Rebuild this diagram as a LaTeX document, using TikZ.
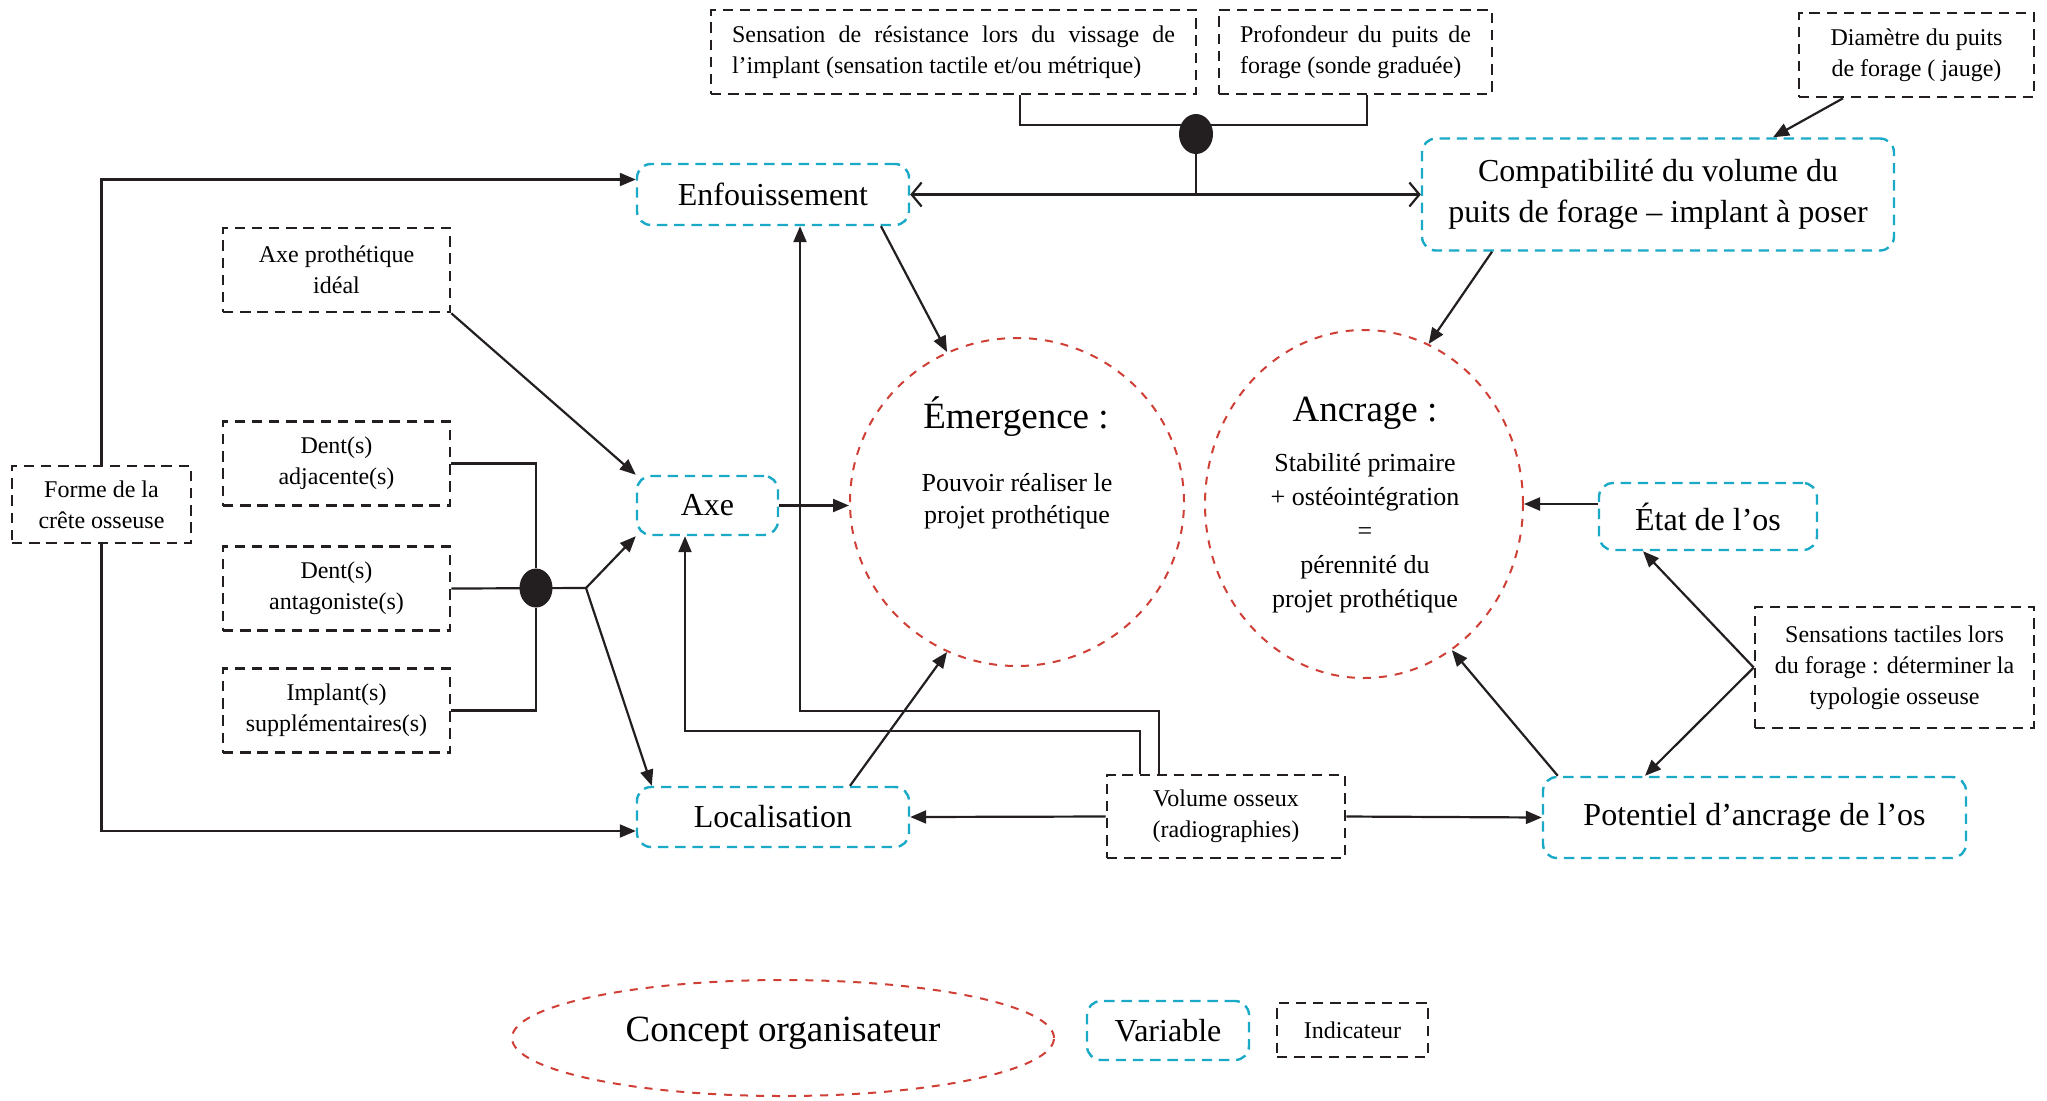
\documentclass[tikz,border=0pt]{standalone}
\usepackage{fontspec}
\setmainfont{Liberation Serif}
\usetikzlibrary{positioning,shapes.geometric,arrows.meta}
\definecolor{mapInk}{HTML}{231F20}
\definecolor{mapCyan}{HTML}{1AA9C7}
\definecolor{mapRed}{HTML}{CF3F36}
\tolerance=10000
\tikzset{
  indbox/.style={draw=mapInk,dash pattern=on 5.2pt off 3.4pt,line width=1.3pt,
    align=center,inner sep=0pt,font=\fontsize{12}{15.5}\selectfont},
  varbox/.style={draw=mapCyan,dash pattern=on 5.2pt off 3.4pt,line width=1.2pt,
    rounded corners=7pt,align=center,inner sep=0pt,font=\fontsize{16}{20.5}\selectfont},
  conceptring/.style={ellipse,draw=mapRed,dash pattern=on 4pt off 4pt,line width=1pt,inner sep=0pt},
  dotmark/.style={ellipse,fill=mapInk,inner sep=0pt},
  link/.style={draw=mapInk,line width=1.1pt},
  arr/.style={link,-{Triangle[length=8pt,width=6.5pt]}},
  twoway/.style={link,<->,>={Straight Barb[length=5pt,width=12pt]}}
}

\begin{document}
\begin{tikzpicture}[x=0.5pt,y=-0.5pt]
  \useasboundingbox (0,0) rectangle (2047,1100);

  \node[indbox,minimum width=242.5pt,minimum height=42pt,text width=221.5pt,align=justify] (sensvis) at (953.5,52)
    {Sensation de résistance lors du vissage de l’implant (sensation tactile et/ou métrique)};
  \node[indbox,minimum width=136.5pt,minimum height=42pt,text width=115.5pt,align=justify] (profond) at (1355.5,52)
    {Profondeur du puits de forage (sonde graduée)};
  \node[indbox,minimum width=117.5pt,minimum height=42pt] (diam) at (1916.5,55) {Diamètre du puits\\de forage ( jauge)};
  \node[indbox,minimum width=113.5pt,minimum height=42pt] (axeideal) at (336.5,270) {Axe prothétique\\idéal};
  \node[indbox,minimum width=113.5pt,minimum height=42pt] (dentadj) at (336.5,463.5) {Dent(s)\\adjacente(s)};
  \node[indbox,minimum width=113.5pt,minimum height=42pt] (dentant) at (336.5,588.5) {Dent(s)\\antagoniste(s)};
  \node[indbox,minimum width=113.5pt,minimum height=42pt] (implsup) at (336.5,710.5) {Implant(s)\\supplémentaires(s)};
  \node[indbox,minimum width=89.5pt,minimum height=38.5pt] (forme) at (101.5,504.5) {Forme de la\\crête osseuse};
  \node[indbox,minimum width=139.5pt,minimum height=60.5pt] (senstact) at (1894.5,667.5)
    {Sensations tactiles lors\\du forage : déterminer la\\typologie osseuse};
  \node[indbox,minimum width=119pt,minimum height=41.5pt] (volume) at (1226,816.5) {Volume osseux\\(radiographies)};

  \node[varbox,minimum width=136pt,minimum height=30.5pt] (enfouis) at (773,194.5) {Enfouissement};
  \node[varbox,minimum width=236pt,minimum height=56pt] (compat) at (1658,194.5)
    {Compatibilité du volume du\\puits de forage – implant à poser};
  \node[varbox,minimum width=70.5pt,minimum height=29.5pt] (axe) at (707.5,505.5) {Axe};
  \node[varbox,minimum width=136pt,minimum height=30pt] (local) at (773,817) {Localisation};
  \node[varbox,minimum width=109pt,minimum height=33.5pt] (etat) at (1708,516.5) {État de l’os};
  \node[varbox,minimum width=211.5pt,minimum height=40.5pt] (potent) at (1754.5,817.5) {Potentiel d’ancrage de l’os};

  \node[conceptring,minimum width=167pt,minimum height=164pt] (emerg) at (1017,502) {};
  \node[conceptring,minimum width=159pt,minimum height=174pt] (ancr) at (1364,504) {};
  \node[font=\fontsize{18.5}{22}\selectfont] (emergtitle) at (1016,417) {Émergence :};
  \node[font=\fontsize{13}{16}\selectfont,align=center] (emergtext) at (1017,501) {Pouvoir réaliser le\\projet prothétique};
  \node[font=\fontsize{18.5}{22}\selectfont] (ancrtitle) at (1365,413) {Ancrage :};
  \node[font=\fontsize{13}{17}\selectfont,align=center] (ancrtext) at (1365,533)
    {Stabilité primaire\\+ ostéointégration\\=\\pérennité du\\projet prothétique};

  \node[dotmark,minimum width=17pt,minimum height=20pt] (dottop) at (1196,134) {};
  \node[dotmark,minimum width=16.5pt,minimum height=19.5pt] (dotleft) at (536,588) {};
  \coordinate (split) at (586,588);

  \draw[link] ([xshift=33.25pt]sensvis.south) |- ([yshift=4.5pt]dottop.center);
  \draw[link] ([xshift=5.75pt]profond.south) |- ([yshift=4.5pt]dottop.center);
  \draw[link] (dottop) -- (dottop |- enfouis.east);
  \draw[twoway] (enfouis.east) -- (compat.west);
  \draw[arr] ([xshift=-36.75pt]diam.south) -- ([xshift=57.5pt]compat.north);
  \draw[arr] ([xshift=-83pt]compat.south) -- (ancr.68);
  \draw[arr] ([xshift=54pt]enfouis.south) -- (emerg.115);
  \draw[arr] ([xshift=38.5pt]local.north) -- (emerg.245);
  \draw[arr] (axe.east) -- (axe.east -| emerg.west);
  \draw[arr] (axeideal.south east) -- (axe.north west);
  \draw[link] (dentadj.east) -| (dotleft);
  \draw[link] (implsup.east) -| (dotleft);
  \draw[link] (dentant.east) -- (split);
  \draw[arr] (split) -- (axe.south west);
  \draw[arr] (split) -- ([xshift=8pt]local.north west);
  \draw[arr] (forme.north) |- ([yshift=7.5pt]enfouis.west);
  \draw[arr] (forme.south) |- ([yshift=-7pt]local.west);
  \draw[arr] ([xshift=-33.5pt]volume.north) -- ++(0,-63) -| ([xshift=13.5pt]enfouis.south);
  \draw[arr] ([xshift=-43pt]volume.north) -- ++(0,-43) -| ([xshift=-11.25pt]axe.south);
  \draw[arr] (volume.west) -- (local.east);
  \draw[arr] (volume.east) -- (potent.west);
  \draw[arr] ([xshift=8pt]potent.north west) -- (ancr.301);
  \draw[arr] (etat.west |- ancr.east) -- (ancr.east);
  \draw[arr] (senstact.west) -- ([xshift=-32.5pt]etat.south);
  \draw[arr] (senstact.west) -- ([xshift=-54.75pt]potent.north);

  \node[conceptring,minimum width=271pt,minimum height=58pt,text depth=9pt,font=\fontsize{18.5}{22}\selectfont] (legconcept) at (783,1038)
    {Concept organisateur};
  \node[varbox,minimum width=81pt,minimum height=29.5pt] (legvar) at (1168,1030.5) {Variable};
  \node[indbox,minimum width=75.5pt,minimum height=27pt] (legind) at (1352.5,1030) {Indicateur};
\end{tikzpicture}
\end{document}
